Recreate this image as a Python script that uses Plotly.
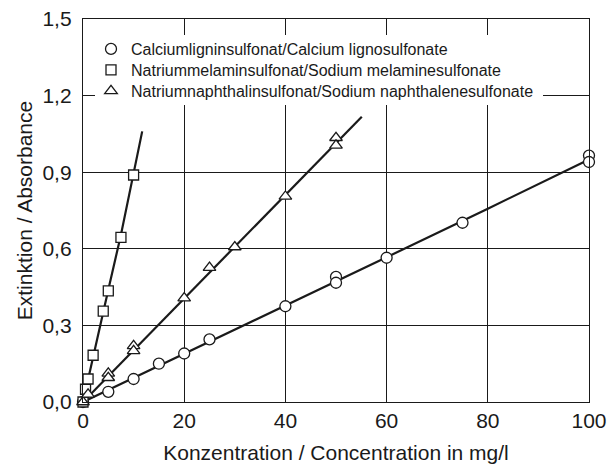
import plotly.graph_objects as go

# ---- data ----
conc_ligno = [0, 5, 10, 15, 20, 25, 40, 50, 50, 60, 75, 100, 100]
abs_ligno = [0.0, 0.04, 0.09, 0.15, 0.19, 0.245, 0.375, 0.49, 0.467, 0.565, 0.702, 0.965, 0.94]

conc_melamine = [0, 0.5, 1, 2, 4, 5, 7.5, 10]
abs_melamine = [0.0, 0.05, 0.09, 0.183, 0.356, 0.435, 0.645, 0.889]

conc_naph = [0, 1, 5, 5, 10, 10, 20, 25, 30, 40, 50, 50]
abs_naph = [0.0, 0.03, 0.112, 0.095, 0.22, 0.2, 0.407, 0.526, 0.607, 0.805, 1.035, 1.005]

fit_ligno_x = [0, 20, 40, 60, 80, 100]
fit_ligno_y = [0.0, 0.188, 0.377, 0.567, 0.757, 0.95]

fit_melamine_x = [0, 2, 5, 7.5, 10, 11.7]
fit_melamine_y = [0.0, 0.18, 0.44, 0.655, 0.89, 1.06]

fit_naph_x = [0, 10, 20, 30, 40, 50, 55.1]
fit_naph_y = [0.0, 0.203, 0.406, 0.609, 0.812, 1.015, 1.117]

names = [
    "Calciumligninsulfonat/Calcium lignosulfonate",
    "Natriummelaminsulfonat/Sodium melaminesulfonate",
    "Natriumnaphthalinsulfonat/Sodium naphthalenesulfonate",
]

x_ticks = [0, 20, 40, 60, 80, 100]
x_ticktext = ["0", "20", "40", "60", "80", "100"]
y_ticks = [0.0, 0.3, 0.6, 0.9, 1.2, 1.5]
y_ticktext = ["0,0", "0,3", "0,6", "0,9", "1,2", "1,5"]

FONT = "Liberation Sans, Arial, Helvetica, sans-serif"
INK = "#1a1a1a"

fig = go.Figure()

for fx, fy in [(fit_ligno_x, fit_ligno_y), (fit_melamine_x, fit_melamine_y), (fit_naph_x, fit_naph_y)]:
    fig.add_trace(go.Scatter(x=fx, y=fy, mode="lines", showlegend=False,
                             line=dict(color=INK, width=2.2), cliponaxis=False,
                             hoverinfo="skip"))

legend_ids = ["legend", "legend2", "legend3"]
for cx, cy, sym, nm, sz, lg in [
    (conc_ligno, abs_ligno, "circle", names[0], 11, legend_ids[0]),
    (conc_melamine, abs_melamine, "square", names[1], 10, legend_ids[1]),
    (conc_naph, abs_naph, "triangle-up", names[2], 11, legend_ids[2]),
]:
    fig.add_trace(go.Scatter(
        x=cx, y=cy, mode="markers", name=nm, cliponaxis=False, legend=lg,
        marker=dict(symbol=sym, size=sz, color="white",
                    line=dict(color=INK, width=1.3)),
    ))

# plot area: x 83..589 px, y 19..402 px
def py(p):
    return (402 - p) / 383.0

leg_common = dict(x=(91 - 83) / 506.0, xanchor="left", yanchor="top",
                  bgcolor="rgba(0,0,0,0)", borderwidth=0,
                  font=dict(family=FONT, size=16, color=INK))

# white gap behind the legend (in axis units: 5.06 px per mg/l, 255.3 px per unit absorbance)
gap_x0, gap_x1 = (95 - 83) / 5.06, (543 - 83) / 5.06
gap_y0, gap_y1 = (402 - 105) / 255.3, (402 - 35) / 255.3

fig.update_layout(
    width=610, height=465,
    margin=dict(l=83, r=21, t=19, b=63, autoexpand=False),
    paper_bgcolor="white", plot_bgcolor="white",
    font=dict(family=FONT, size=21, color=INK),
    showlegend=True,
    legend=dict(y=py(32), **leg_common),
    legend2=dict(y=py(53), **leg_common),
    legend3=dict(y=py(74), **leg_common),
    shapes=[dict(type="rect", xref="x", yref="y",
                 x0=gap_x0, x1=gap_x1, y0=gap_y0, y1=gap_y1,
                 fillcolor="white", line=dict(width=0), layer="between")],
    xaxis=dict(range=[0, 100], tickvals=x_ticks, ticktext=x_ticktext,
               showgrid=True, gridcolor=INK, gridwidth=1.2, automargin=False,
               showline=True, mirror=True, linecolor=INK, linewidth=1.4,
               zeroline=False, ticks="", ticklabelstandoff=0,
               title=dict(text="Konzentration / Concentration in mg/l",
                          font=dict(size=21), standoff=13)),
    yaxis=dict(range=[0, 1.5], tickvals=y_ticks, ticktext=y_ticktext,
               showgrid=True, gridcolor=INK, gridwidth=1.2, automargin=False,
               showline=True, mirror=True, linecolor=INK, linewidth=1.4,
               zeroline=False, ticks="", ticklabelstandoff=6,
               title=dict(text="Extinktion / Absorbance",
                          font=dict(size=21), standoff=4)),
)

fig.write_html("out.html")
